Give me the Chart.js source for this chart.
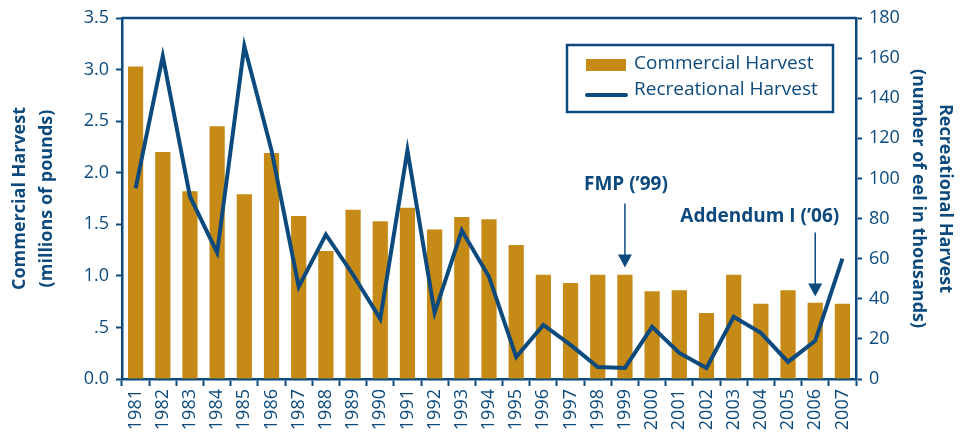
<!DOCTYPE html>
<html>
<head>
<meta charset="utf-8">
<script src="https://cdn.jsdelivr.net/npm/chart.js@4.4.1/dist/chart.umd.min.js"></script>
<style>
  html, body { margin: 0; padding: 0; background: #fff; }
  #wrap { width: 963px; height: 442px; }
</style>
</head>
<body>
<div id="wrap"><canvas id="eelChart" width="963" height="442"></canvas></div>
<script>
const years = ['1981', '1982', '1983', '1984', '1985', '1986', '1987', '1988', '1989', '1990',
  '1991', '1992', '1993', '1994', '1995', '1996', '1997', '1998', '1999', '2000',
  '2001', '2002', '2003', '2004', '2005', '2006', '2007'];

// millions of pounds
const commercial = [3.03, 2.20, 1.82, 2.45, 1.79, 2.19, 1.58, 1.24, 1.64, 1.53,
  1.66, 1.45, 1.57, 1.55, 1.30, 1.01, 0.93, 1.01, 1.01, 0.85,
  0.86, 0.64, 1.01, 0.73, 0.86, 0.74, 0.73];

// thousands of eel
const recreational = [95, 161, 91, 63, 166, 114, 46, 72, 52, 30,
  114, 33, 74, 51, 11, 27, 17, 6, 5.5, 26,
  13, 5.5, 31, 23, 8.5, 19, 60];

const leftTickLabels = ['0.0', '.5', '1.0', '1.5', '2.0', '2.5', '3.0', '3.5'];
const rightTickLabels = ['0', '20', '40', '60', '80', '100', '120', '140', '160', '180'];

const noteYears = ['1999', '2006'];
const noteLabels = ['FMP (\u201999)', 'Addendum I (\u201906)'];
const noteTips = [1.08, 0.80]; // arrow tip, left axis units

const BLUE = '#0c4a7d';
const GOLD = '#c68a16';
const FONT = "'Open Sans', sans-serif";

Chart.defaults.font.family = FONT;
Chart.defaults.color = BLUE;

const overlayPlugin = {
  id: 'overlay',
  afterDatasetsDraw(chart) {
    const ctx = chart.ctx;
    const area = chart.chartArea;
    const x = chart.scales.x;
    const y = chart.scales.y;
    ctx.save();

    // top frame line
    ctx.strokeStyle = BLUE;
    ctx.lineWidth = 2.5;
    ctx.beginPath();
    ctx.moveTo(area.left, area.top);
    ctx.lineTo(area.right, area.top);
    ctx.stroke();

    // annotations with arrows
    noteYears.forEach((yr, i) => {
      const px = x.getPixelForValue(years.indexOf(yr));
      const tip = y.getPixelForValue(noteTips[i]);
      const tail = tip - 64;
      ctx.strokeStyle = BLUE;
      ctx.fillStyle = BLUE;
      ctx.lineWidth = 1.5;
      ctx.beginPath();
      ctx.moveTo(px, tail);
      ctx.lineTo(px, tip - 10);
      ctx.stroke();
      ctx.beginPath();
      ctx.moveTo(px - 7, tip - 13);
      ctx.lineTo(px + 7, tip - 13);
      ctx.lineTo(px, tip);
      ctx.closePath();
      ctx.fill();
      ctx.font = 'bold 19px ' + FONT;
      ctx.textBaseline = 'alphabetic';
      if (i === 0) {
        ctx.textAlign = 'center';
        ctx.fillText(noteLabels[i], px + 1, tail - 14);
      } else {
        ctx.textAlign = 'right';
        ctx.fillText(noteLabels[i], px + 24, tail - 10);
      }
    });

    // legend box
    const bx = area.right - 289, by = area.top + 27, bw = 266, bh = 67;
    ctx.fillStyle = '#fff';
    ctx.fillRect(bx, by, bw, bh);
    ctx.strokeStyle = BLUE;
    ctx.lineWidth = 2.5;
    ctx.strokeRect(bx, by, bw, bh);
    ctx.fillStyle = GOLD;
    ctx.fillRect(bx + 19, by + 14, 40, 12);
    ctx.strokeStyle = BLUE;
    ctx.lineWidth = 4;
    ctx.lineCap = 'round';
    ctx.beginPath();
    ctx.moveTo(bx + 20, by + 50);
    ctx.lineTo(bx + 59, by + 50);
    ctx.stroke();
    ctx.fillStyle = BLUE;
    ctx.font = '19px ' + FONT;
    ctx.textAlign = 'left';
    ctx.textBaseline = 'middle';
    ctx.fillText(chart.data.datasets[0].label, bx + 67, by + 19);
    ctx.fillText(chart.data.datasets[1].label, bx + 67, by + 45);
    ctx.restore();
  }
};

new Chart(document.getElementById('eelChart').getContext('2d'), {
  type: 'bar',
  data: {
    labels: years,
    datasets: [
      {
        label: 'Commercial Harvest',
        data: commercial,
        backgroundColor: GOLD,
        yAxisID: 'y',
        order: 2,
        categoryPercentage: 1,
        barPercentage: 0.56
      },
      {
        type: 'line',
        label: 'Recreational Harvest',
        data: recreational,
        borderColor: BLUE,
        borderWidth: 4,
        pointRadius: 0,
        tension: 0,
        yAxisID: 'y1',
        order: 1
      }
    ]
  },
  options: {
    responsive: false,
    animation: false,
    layout: { padding: { left: 6, right: 4, top: 18, bottom: 0 } },
    plugins: {
      legend: { display: false },
      tooltip: { enabled: false }
    },
    scales: {
      x: {
        afterFit(s) { s.height = 63; },
        grid: { offset: true, drawOnChartArea: false, drawTicks: true, tickLength: 7, tickWidth: 2, color: BLUE },
        border: { display: true, color: BLUE, width: 2.5 },
        ticks: { minRotation: 90, maxRotation: 90, padding: 3, color: BLUE, font: { size: 18 } }
      },
      y: {
        position: 'left',
        min: 0,
        max: 3.5,
        afterFit(s) { s.width = 116; },
        grid: { drawOnChartArea: false, drawTicks: true, tickLength: 6, tickWidth: 2, color: BLUE },
        border: { display: true, color: BLUE, width: 2.5 },
        ticks: {
          stepSize: 0.5,
          padding: 7,
          color: BLUE,
          font: { size: 18 },
          callback: (v) => leftTickLabels[Math.round(v / 0.5)]
        },
        title: {
          display: true,
          text: ['Commercial Harvest', '(millions of pounds)'],
          color: BLUE,
          font: { size: 18, weight: 'bold', lineHeight: 1.5 },
          padding: { top: 0, bottom: 0 }
        }
      },
      y1: {
        position: 'right',
        min: 0,
        max: 180,
        afterFit(s) { s.width = 103; },
        grid: { drawOnChartArea: false, drawTicks: true, tickLength: 6, tickWidth: 2, color: BLUE },
        border: { display: true, color: BLUE, width: 2.5 },
        ticks: {
          stepSize: 20,
          padding: 7,
          color: BLUE,
          font: { size: 18 },
          callback: (v) => rightTickLabels[Math.round(v / 20)]
        },
        title: {
          display: true,
          text: ['Recreational Harvest', '(number of eel in thousands)'],
          color: BLUE,
          font: { size: 18, weight: 'bold', lineHeight: 1.5 },
          padding: { top: 0, bottom: 0 }
        }
      }
    }
  },
  plugins: [overlayPlugin]
});
</script>
</body>
</html>
